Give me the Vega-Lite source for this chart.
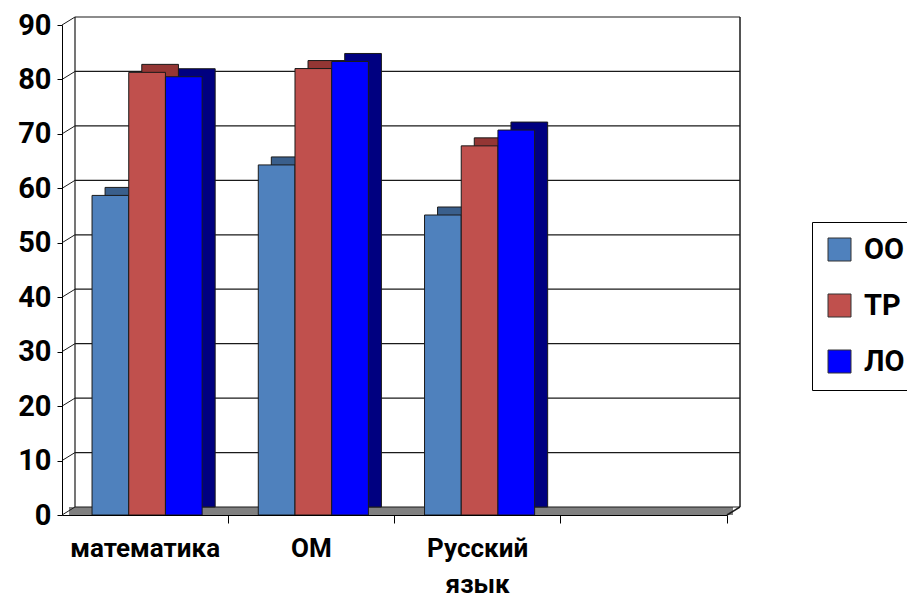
{
  "$schema": "https://vega.github.io/schema/vega-lite/v6.json",
  "width": 665,
  "height": 490,
  "autosize": "none",
  "padding": {"left": 62, "top": 25, "right": 180, "bottom": 82},
  "background": "white",
  "config": {
    "view": {"stroke": null},
    "font": "Roboto",
    "axisX": {
      "bandPosition": 1, "tickSize": 8, "labelPadding": 12,
      "labelFontSize": 26, "labelFontWeight": "bold", "labelFont": "Roboto", "labelColor": "#000",
      "labelAngle": 0, "labelLineHeight": 36, "labelOverlap": false, "labelFlush": false,
      "domainColor": "#000", "tickColor": "#000", "zindex": 1, "grid": false
    },
    "axisY": {
      "grid": false, "labelFontSize": 29, "labelFont": "Roboto", "labelFontWeight": "bold", "labelColor": "#000",
      "tickSize": 5, "tickColor": "#000", "domainColor": "#000", "labelPadding": 6, "zindex": 1
    }
  },
  "datasets": {
    "bars": [
      {"subject": "математика", "group": "ОО", "value": 58.7},
      {"subject": "математика", "group": "ТР", "value": 81.3},
      {"subject": "математика", "group": "ЛО", "value": 80.5},
      {"subject": "ОМ", "group": "ОО", "value": 64.3},
      {"subject": "ОМ", "group": "ТР", "value": 82.0},
      {"subject": "ОМ", "group": "ЛО", "value": 83.3},
      {"subject": "Русский язык", "group": "ОО", "value": 55.1},
      {"subject": "Русский язык", "group": "ТР", "value": 67.8},
      {"subject": "Русский язык", "group": "ЛО", "value": 70.7}
    ],
    "grid": [{"v": 0}, {"v": 10}, {"v": 20}, {"v": 30}, {"v": 40}, {"v": 50}, {"v": 60}, {"v": 70}, {"v": 80}, {"v": 90}],
    "one": [{"k": 1}]
  },
  "layer": [
    {
      "data": {"name": "one"},
      "mark": {"type": "rule", "color": "#808080", "strokeWidth": 8, "yOffset": -4, "xOffset": 7, "x2Offset": 6},
      "encoding": {
        "x": {"datum": "математика", "bandPosition": 0, "type": "nominal", "title": null, "scale": {"domain": ["математика", "ОМ", "Русский язык", "_"], "paddingInner": 0, "paddingOuter": 0}},
        "x2": {"datum": "_", "bandPosition": 1},
        "y": {"datum": 0, "type": "quantitative", "title": null}
      }
    },
    {
      "data": {"name": "grid"},
      "mark": {"type": "rule", "color": "#1a1a1a", "strokeWidth": 1.2, "xOffset": 13, "x2Offset": 13, "yOffset": -8},
      "encoding": {
        "x": {"datum": "математика", "bandPosition": 0, "type": "nominal", "title": null},
        "x2": {"datum": "_", "bandPosition": 1},
        "y": {"field": "v", "type": "quantitative", "title": null}
      }
    },
    {
      "data": {"name": "grid"},
      "mark": {"type": "rule", "color": "#1a1a1a", "strokeWidth": 1, "x2Offset": 13, "y2Offset": -8},
      "encoding": {
        "x": {"datum": "математика", "bandPosition": 0, "type": "nominal", "title": null},
        "x2": {"datum": "математика", "bandPosition": 0},
        "y": {"field": "v", "type": "quantitative", "title": null},
        "y2": {"field": "v"}
      }
    },
    {
      "data": {"name": "one"},
      "mark": {"type": "rule", "color": "#1a1a1a", "strokeWidth": 1.2, "xOffset": 13, "yOffset": -8, "y2Offset": -8},
      "encoding": {
        "x": {"datum": "математика", "bandPosition": 0, "type": "nominal", "title": null},
        "y": {"datum": 0, "type": "quantitative", "title": null},
        "y2": {"datum": 90}
      }
    },
    {
      "data": {"name": "one"},
      "mark": {"type": "rule", "color": "#1a1a1a", "strokeWidth": 1.5, "xOffset": 13, "yOffset": -8, "y2Offset": -8},
      "encoding": {
        "x": {"datum": "_", "bandPosition": 1, "type": "nominal", "title": null},
        "y": {"datum": 0, "type": "quantitative", "title": null},
        "y2": {"datum": 90}
      }
    },
    {
      "data": {"name": "one"},
      "mark": {"type": "rule", "color": "#1a1a1a", "strokeWidth": 1.5, "x2Offset": 13, "y2Offset": -8},
      "encoding": {
        "x": {"datum": "_", "bandPosition": 1, "type": "nominal", "title": null},
        "x2": {"datum": "_", "bandPosition": 1},
        "y": {"datum": 0, "type": "quantitative", "title": null},
        "y2": {"datum": 0}
      }
    },
    {
      "data": {"name": "bars"},
      "mark": {"type": "bar", "stroke": "#1a1a1a", "strokeWidth": 1, "yOffset": -8, "y2Offset": -8},
      "encoding": {
        "x": {"field": "subject", "type": "nominal", "title": null, "scale": {"domain": ["математика", "ОМ", "Русский язык", "_"], "paddingInner": 0, "paddingOuter": 0}},
        "xOffset": {"field": "group", "type": "nominal", "scale": {"domain": ["ОО", "ТР", "ЛО"], "paddingInner": 0, "paddingOuter": 0.765, "align": 0.767}},
        "y": {"field": "value", "type": "quantitative", "title": null},
        "color": {"field": "group", "type": "nominal", "legend": null, "scale": {"domain": ["ОО", "ТР", "ЛО"], "range": ["#3A5F8C", "#943634", "#000080"]}}
      }
    },
    {
      "data": {"name": "bars"},
      "mark": {"type": "bar", "stroke": "#1a1a1a", "strokeWidth": 1},
      "encoding": {
        "x": {
          "field": "subject", "type": "nominal", "title": null,
          "scale": {"domain": ["математика", "ОМ", "Русский язык", "_"], "paddingInner": 0, "paddingOuter": 0},
          "axis": {
            "title": null, "bandPosition": 1, "tickSize": 8, "labelPadding": 12,
            "labelFontSize": 26, "labelFontWeight": "bold", "labelFont": "Roboto", "labelColor": "#000",
            "labelAngle": 0, "labelLineHeight": 36, "labelOverlap": false, "labelFlush": false,
            "labelExpr": "datum.value == 'Русский язык' ? ['Русский', 'язык'] : (datum.value == '_' ? '' : datum.value)",
            "domainColor": "#000", "tickColor": "#000", "zindex": 1
          }
        },
        "xOffset": {"field": "group", "type": "nominal", "scale": {"domain": ["ОО", "ТР", "ЛО"], "paddingInner": 0, "paddingOuter": 0.765, "align": 0.535}},
        "y": {
          "field": "value", "type": "quantitative", "title": null,
          "scale": {"domain": [0, 90], "nice": false},
          "axis": {
            "title": null, "values": [0, 10, 20, 30, 40, 50, 60, 70, 80, 90], "grid": false,
            "labelFontSize": 29, "labelFont": "Roboto", "labelFontWeight": "bold", "labelColor": "#000",
            "tickSize": 5, "tickColor": "#000", "domainColor": "#000", "labelPadding": 6, "zindex": 1
          }
        },
        "color": {
          "field": "group", "type": "nominal",
          "scale": {"domain": ["ОО", "ТР", "ЛО"], "range": ["#4F81BD", "#C0504D", "#0000FF"]},
          "legend": {
            "title": null, "orient": "none", "legendX": 750, "legendY": 197,
            "symbolType": "square", "symbolSize": 529, "symbolStrokeColor": "#333", "symbolStrokeWidth": 1,
            "labelFontSize": 29, "labelFont": "Roboto", "labelFontWeight": "bold", "labelColor": "#000",
            "rowPadding": 26, "padding": 13, "strokeColor": "#000", "fillColor": "white", "labelOffset": 10
          }
        }
      }
    }
  ],
  "resolve": {"scale": {"xOffset": "independent", "color": "independent"}}
}
